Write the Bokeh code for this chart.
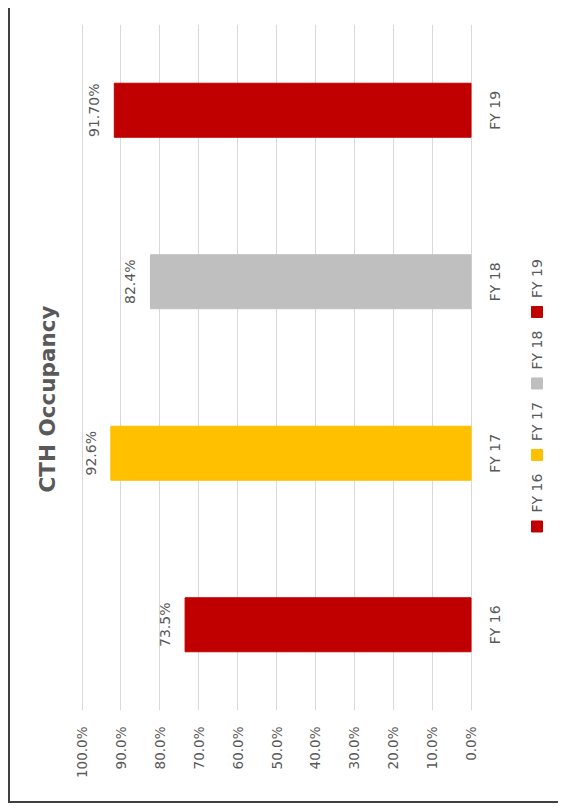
import math
from bokeh.plotting import figure
from bokeh.models import Range1d, FixedTicker, ColumnDataSource
from bokeh.core.properties import value
from bokeh.embed import file_html
from bokeh.resources import INLINE

# ---- data ----
categories = ["FY 16", "FY 17", "FY 18", "FY 19"]
occupancy = [0.735, 0.926, 0.824, 0.917]
value_labels = ["73.5%", "92.6%", "82.4%", "91.70%"]
bar_colors = ["#C00000", "#FFC000", "#BFBFBF", "#C00000"]
tick_values = [0.0, 0.1, 0.2, 0.3, 0.4, 0.5, 0.6, 0.7, 0.8, 0.9, 1.0]
tick_labels = ["0.0%", "10.0%", "20.0%", "30.0%", "40.0%", "50.0%",
               "60.0%", "70.0%", "80.0%", "90.0%", "100.0%"]

FONT = "DejaVu Sans"
GRAY = "#595959"

W, H = 550, 795
ML, MT = 70, 16
frame_h = 686
MB = H - MT - frame_h
frame_w = W - ML
px_per_unit = 389.0
x_start = 1.0 + 1.5 / px_per_unit
x_end = x_start - frame_w / px_per_unit
px_per_cat = frame_h / 4.0

p = figure(width=W, height=H, output_backend="svg", toolbar_location=None,
           x_range=Range1d(x_start, x_end), y_range=Range1d(-0.5, 3.5),
           min_border_left=ML, min_border_top=MT, min_border_bottom=MB,
           min_border_right=0, title="CTH Occupancy", title_location="left")
p.styles = {"border-left": "2px solid #404040", "border-bottom": "2px solid #404040",
            "margin-left": "8px", "margin-top": "8px"}
p.outline_line_color = None
p.background_fill_color = "white"
p.border_fill_color = "white"

p.title.text_font = FONT
p.title.text_font_size = "21.5px"
p.title.text_font_style = "bold"
p.title.text_color = GRAY
p.title.align = "left"
p.title.offset = 218
p.title.standoff = 42

ypos = list(range(len(categories)))
src = ColumnDataSource(dict(y=ypos, v=occupancy, c=bar_colors, lab=value_labels,
                            cat=categories,
                            lx=[v + 20 / px_per_unit for v in occupancy],
                            cx=[-24 / px_per_unit] * len(categories)))

p.hbar(y="y", left=0, right="v", height=0.315, color="c", source=src)

p.text(x="lx", y="y", text="lab", angle=math.pi / 2, text_align="center",
       text_baseline="middle", text_font=value(FONT), text_font_size="14px",
       text_color=GRAY, source=src)

p.text(x="cx", y="y", text="cat", angle=math.pi / 2, text_align="center",
       text_baseline="middle", text_font=value(FONT), text_font_size="14px",
       text_color=GRAY, source=src)

# legend (drawn rotated, like the reference)
leg_x = -66 / px_per_unit
leg_y0 = 0.573
leg_step = 71.5 / px_per_cat
leg_src = ColumnDataSource(dict(
    x=[leg_x] * len(categories),
    y=[leg_y0 + i * leg_step for i in range(len(categories))],
    ty=[leg_y0 + i * leg_step + 14 / px_per_cat for i in range(len(categories))],
    c=bar_colors, t=categories))
p.rect(x="x", y="y", width=11, height=11, width_units="screen", height_units="screen",
       color="c", source=leg_src)
p.text(x="x", y="ty", text="t", angle=math.pi / 2, text_align="left",
       text_baseline="middle", text_font=value(FONT), text_font_size="14px",
       text_color=GRAY, source=leg_src)

# axes
p.yaxis.visible = False
p.ygrid.visible = False
xa = p.xaxis[0]
xa.ticker = FixedTicker(ticks=tick_values)
xa.major_label_overrides = {v: l for v, l in zip(tick_values, tick_labels)}
xa.major_label_orientation = math.pi / 2
xa.axis_line_color = None
xa.major_tick_line_color = None
xa.minor_tick_line_color = None
xa.major_tick_in = 0
xa.major_tick_out = 0
xa.major_label_standoff = 16
xa.major_label_text_font = FONT
xa.major_label_text_font_size = "13.5px"
xa.major_label_text_color = GRAY
p.xgrid.ticker = FixedTicker(ticks=tick_values)
p.xgrid.grid_line_color = "#D9D9D9"
p.xgrid.grid_line_width = 1

open("out.html", "w").write(file_html(p, INLINE))
